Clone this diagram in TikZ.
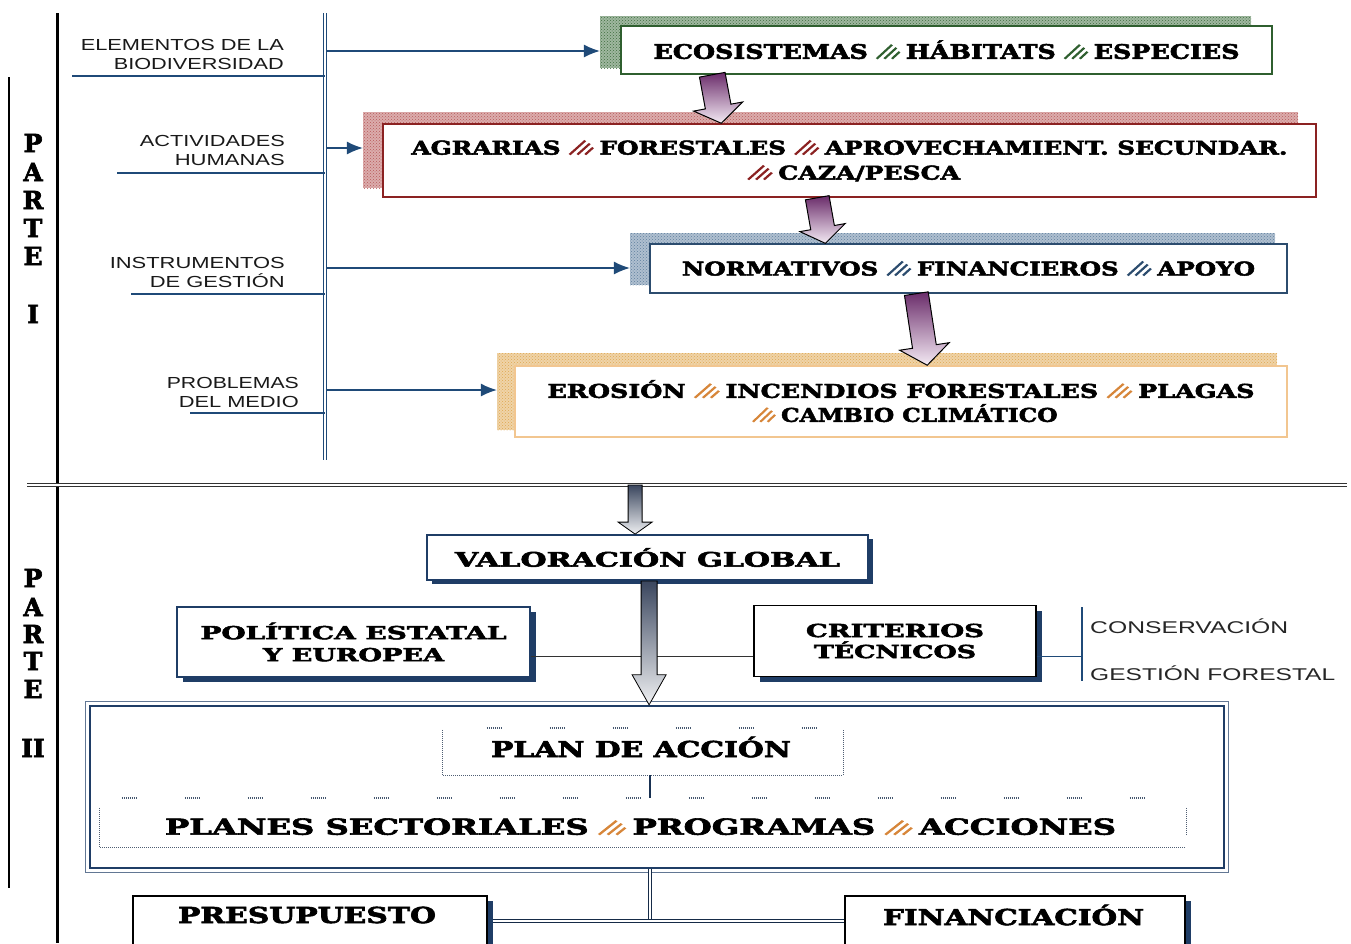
\documentclass[tikz,border=0pt]{standalone}
\usepackage{fontspec}
\usepackage{graphicx}
\setmainfont{DejaVu Serif}[BoldFont={DejaVu Serif Bold}, BoldFeatures={FakeBold=2.5}]
\newfontfamily\lsf{Liberation Sans}
\usetikzlibrary{arrows.meta,calc,patterns,shadows}
\definecolor{navy}{HTML}{1F3D66}
\definecolor{busc}{HTML}{1F4A78}
\definecolor{grnb}{HTML}{2F5F2F}
\definecolor{grns}{HTML}{3F6F3F}
\definecolor{redb}{HTML}{8B2222}
\definecolor{reds}{HTML}{B85A5A}
\definecolor{blub}{HTML}{2C4C6E}
\definecolor{blus}{HTML}{5F7F9F}
\definecolor{orab}{HTML}{F2C690}
\definecolor{oras}{HTML}{E0A850}
\definecolor{orah}{HTML}{D7863A}
\definecolor{purd}{HTML}{6A2C6A}
\definecolor{purl}{HTML}{F4EAF4}
\definecolor{grayd}{HTML}{3A465E}
\newcommand\fw[2]{\resizebox{#1pt}{\height}{#2}}
\newcommand\hs[1]{\hspace{6pt}\tikz[baseline=0pt]\draw[#1,line width=1.9pt] (0pt,0pt)--(12pt,14pt) (6pt,0pt)--(15.5pt,11pt) (12pt,0pt)--(18pt,7pt);\hspace{4pt}}
\newcommand\fatarrow[6]{%
  \coordinate (fah) at ($(#2)!#5!(#1)$);
  \draw[#6] ($(#1)!#3!90:(#2)$) -- ($(fah)!#3!90:(#2)$) -- ($(fah)!#4!90:(#2)$) -- (#2) -- ($(fah)!#4!-90:(#2)$) -- ($(fah)!#3!-90:(#2)$) -- ($(#1)!#3!-90:(#2)$) -- cycle;}
\begin{document}
\begin{tikzpicture}[x=1pt,y=-1pt,
  lbl/.style={font=\lsf\fontsize{16}{19}\selectfont, align=right, inner sep=0pt, text=black!90},
  side/.style={font=\lsf\fontsize{17}{20}\selectfont, inner sep=0pt, anchor=west, text=black!85},
  parte/.style={font=\bfseries\fontsize{25}{25}\selectfont, inner sep=0pt},
  shd/.style={fill=#1!50, inner sep=0pt, postaction={pattern=crosshatch dots, pattern color=#1}},
  box/.style={fill=white, inner sep=0pt, align=center, line width=1.5pt},
  txt/.style={inner sep=0pt, font=\bfseries\fontsize{22}{26}\selectfont},
  bus/.style={busc, line width=1.2pt},
  busarrow/.style={busc, line width=1.2pt, -{Latex[length=16pt,width=13pt]}},
  fatp/.style={draw=black, line width=1pt, top color=purd, bottom color=purl},
  fatg/.style={draw=black, line width=0.8pt, top color=grayd, bottom color=white!92!grayd},
  vbox/.style={draw=navy, line width=1.8pt, fill=white, inner sep=0pt, align=center,
    drop shadow={shadow xshift=5pt, shadow yshift=-4pt, fill=navy, opacity=1}},
  pbox/.style={draw=#1, line width=1.1pt, fill=white, inner sep=0pt, align=center,
    drop shadow={shadow xshift=6pt, shadow yshift=-5pt, fill=navy, opacity=1}},
  dotln/.style={draw=navy!50!gray, line width=1pt, dash pattern=on 1pt off 1pt},
  sparse/.style={draw=navy!60!gray, line width=1.4pt, dash pattern=on 1pt off 1pt on 1pt off 1pt on 1pt off 1pt on 1pt off 1pt on 1pt off 1pt on 1pt off 1pt on 1pt off 1pt on 1pt off 48pt},
  dbl/.style={draw=navy!70!black, line width=1pt, double=white, double distance=2.5pt},
  thin/.style={black!80, line width=1pt}
]
\useasboundingbox (0,0) rectangle (1351,943);
\fill[white] (0,0) rectangle (1351,943);
\clip (0,0) rectangle (1351,943);

% ---------- frame lines ----------
\coordinate (tl1) at (9,77); \coordinate (tl2) at (9,888);
\draw[line width=1.5pt] (tl1) -- (tl2);
\coordinate (tk1) at (57,13); \coordinate (tk2) at (57,943);
\draw[line width=3pt] (tk1) -- (tk2);
\coordinate (busT) at (325,13); \coordinate (busB) at (325,460);
\draw[busc, line width=1.5pt, double=white, double distance=1.8pt] (busT) -- (busB);

% PARTE I / II
\foreach \l/\y [count=\i] in {P/143,A/172,R/200,T/228,E/256,I/314}
  \node[parte] (pa\i) at (33,\y) {\l};
\foreach \l/\y [count=\i] in {P/578,A/607,R/634,T/661,E/689,II/748}
  \node[parte] (pb\i) at (33,\y) {\l};

% ---------- left labels ----------
\node[lbl, anchor=east] (l1) at (284,54) {\fw{203}{ELEMENTOS DE LA}\\\fw{170}{BIODIVERSIDAD}};
\node[lbl, anchor=east] (l2) at (285,150) {\fw{145}{ACTIVIDADES}\\\fw{110}{HUMANAS}};
\node[lbl, anchor=east] (l3) at (285,272) {\fw{175}{INSTRUMENTOS}\\\fw{135}{DE GESTIÓN}};
\node[lbl, anchor=east] (l4) at (299,392) {\fw{132}{PROBLEMAS}\\\fw{120}{DEL MEDIO}};
\coordinate (u1) at (72,76);  \draw[bus] (u1) -- (u1 -| busT);
\coordinate (u2) at (117,173); \draw[bus] (u2) -- (u2 -| busT);
\coordinate (u3) at (131,294); \draw[bus] (u3) -- (u3 -| busT);
\coordinate (u4) at (190,413); \draw[bus] (u4) -- (u4 -| busT);

% ---------- boxes part I ----------
\node[shd=grns, minimum width=651pt, minimum height=52pt] (ecoS) at (925.5,42) {};
\node[box, draw=grnb, minimum width=651pt, minimum height=48pt, font=\bfseries\fontsize{20}{24}\selectfont] (eco) at (946.5,50)
  {\fw{586}{ECOSISTEMAS\hs{grnb}HÁBITATS\hs{grnb}ESPECIES}};

\node[shd=reds, minimum width=935pt, minimum height=76pt] (agrS) at (830.5,150) {};
\node[box, draw=redb, minimum width=933pt, minimum height=73pt, font=\bfseries\fontsize{19}{25}\selectfont] (agr) at (849.5,160.5)
  {\fw{876}{AGRARIAS\hs{redb}FORESTALES\hs{redb}APROVECHAMIENT. SECUNDAR.}\\\fw{221}{\hs{redb}CAZA/PESCA}};

\node[shd=blus, minimum width=645pt, minimum height=52pt] (bluS) at (952.5,259) {};
\node[box, draw=blub, line width=1.3pt, minimum width=637pt, minimum height=49pt, font=\bfseries\fontsize{19}{24}\selectfont] (blu) at (968.5,268.5)
  {\fw{573}{NORMATIVOS\hs{blub}FINANCIEROS\hs{blub}APOYO}};

\node[shd=oras, minimum width=780pt, minimum height=77pt] (oraS) at (887,391.5) {};
\node[box, draw=orab, minimum width=772pt, minimum height=71pt, font=\bfseries\fontsize{19}{24}\selectfont] (ora) at (901,401.5)
  {\fw{707}{EROSIÓN\hs{orah}INCENDIOS FORESTALES\hs{orah}PLAGAS}\\\fw{313}{\hs{orah}CAMBIO CLIMÁTICO}};

% bus arrows
\coordinate (b1) at (327,51);  \draw[busarrow] (b1) -- (b1 -| ecoS.west);
\coordinate (b2) at (327,148); \draw[busarrow] (b2) -- (b2 -| agrS.west);
\coordinate (b3) at (327,268); \draw[busarrow] (b3) -- (b3 -| bluS.west);
\coordinate (b4) at (327,390); \draw[busarrow] (b4) -- (b4 -| oraS.west);

% purple block arrows
\coordinate (p1a) at ($(eco.south west)+(92,0)$);  \coordinate (p1b) at ($(agr.north west)+(339,0)$);
\fatarrow{p1a}{p1b}{13pt}{25pt}{17pt}{fatp}
\coordinate (p2a) at ($(agr.south west)+(435,0)$); \coordinate (p2b) at ($(blu.north west)+(176,0)$);
\fatarrow{p2a}{p2b}{12pt}{23pt}{16pt}{fatp}
\coordinate (p3a) at ($(blu.south west)+(267,0)$); \coordinate (p3b) at ($(ora.north west)+(413,0)$);
\fatarrow{p3a}{p3b}{12pt}{25pt}{19pt}{fatp}

% ---------- separator ----------
\coordinate (sepL) at (27,485); \coordinate (sepR) at (1347,485);
\draw[black!80, line width=0.9pt, double=white, double distance=1.6pt] (sepL) -- (sepR);

% ---------- part II ----------
\node[vbox, minimum width=441pt, minimum height=45pt, font=\bfseries\fontsize{20}{24}\selectfont] (val) at (647.5,557.5)
  {\fw{385}{VALORACIÓN GLOBAL}};
\node[pbox=navy, minimum width=353pt, minimum height=70pt, font=\bfseries\fontsize{18}{22}\selectfont] (pol) at (353.5,642)
  {\fw{306}{POLÍTICA ESTATAL}\\\fw{181}{Y EUROPEA}};
\node[pbox=black, minimum width=282pt, minimum height=71pt, font=\bfseries\fontsize{18}{21}\selectfont] (crit) at (895,641)
  {\fw{178}{CRITERIOS}\\\fw{162}{TÉCNICOS}};

\coordinate (h1) at ([yshift=-14pt]pol.east);
\draw[thin] (h1) -- (h1 -| crit.west);
\coordinate (brT) at (1082,607); \coordinate (brB) at (1082,681);
\draw[busc, line width=1pt] (h1 -| crit.east) -- (h1 -| brT);
\draw[busc, line width=1.3pt] (brT) -- (brB);
\node[side] (cons) at (1090,626) {\fw{198}{CONSERVACIÓN}};
\node[side] (gest) at (1090,673) {\fw{245}{GESTIÓN FORESTAL}};

% big box
\node[draw=navy, line width=2.4pt, minimum width=1134pt, minimum height=162pt, inner sep=0pt] (big) at (657,787) {};
\draw[navy!70, line width=0.8pt] ([shift={(-3pt,3pt)}]big.north west) rectangle ([shift={(3pt,-3pt)}]big.south east);

\node[inner sep=0pt, minimum width=400pt, minimum height=47pt] (plan) at (643,751.5) {};
\node[txt] (planT) at (641,747) {\fw{300}{PLAN DE ACCIÓN}};
\draw[sparse, dash phase=-44pt] (plan.north west) -- (plan.north east);
\draw[dotln] ([yshift=-2pt]plan.north west) -- (plan.south west) -- (plan.south east) -- ([yshift=-2pt]plan.north east);

\node[inner sep=0pt, minimum width=1086pt, minimum height=49pt] (planes) at (643,822.5) {};
\node[txt] (planesT) at (640.5,827) {\fw{951}{PLANES SECTORIALES\hs{orah}PROGRAMAS\hs{orah}ACCIONES}};
\draw[sparse, dash phase=-22pt] (planes.north west) -- (planes.north east);
\draw[dotln] ([yshift=-10pt]planes.north west) -- (planes.south west) -- (planes.south east);
\draw[dotln] ([yshift=-10pt]planes.north east) -- ([yshift=12pt]planes.south east);

\coordinate (pj) at ([xshift=7pt]plan.south);
\draw[navy!80!black, line width=1.5pt] (pj) -- (pj |- planes.north);

% arrows part II
\coordinate (g1b) at ($(val.north west)+(209,0)$);
\coordinate (g1a) at (g1b |- sepL);
\fatarrow{g1a}{g1b}{7pt}{17pt}{12pt}{fatg}
\coordinate (g2a) at ($(val.south west)+(223,0)$);
\coordinate (g2b) at (g2a |- big.north);
\fatarrow{g2a}{g2b}{8pt}{17pt}{30pt}{fatg}

% bottom boxes
\node[pbox=black, minimum width=354pt, minimum height=50pt] (pres) at (310,921) {};
\node[txt] (presT) at (307,915) {\fw{258}{PRESUPUESTO}};
\node[pbox=black, minimum width=340pt, minimum height=50pt] (fin) at (1015,921) {};
\node[txt] (finT) at (1013.5,915) {\fw{261}{FINANCIACIÓN}};

\coordinate (bs) at ([xshift=-7pt]big.south);
\draw[dbl] (bs) -- (bs |- pres.east);
\draw[dbl] ([xshift=5pt]pres.east) -- (fin.west);
\end{tikzpicture}
\end{document}
